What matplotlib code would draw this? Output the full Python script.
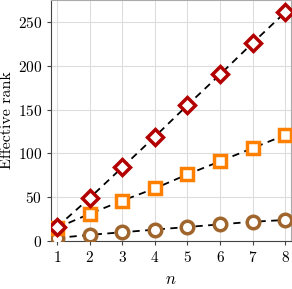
import matplotlib
matplotlib.use("Agg")
import matplotlib.pyplot as plt

plt.rcParams['font.family'] = 'serif'
plt.rcParams['font.serif'] = ['cmr10']
plt.rcParams['mathtext.fontset'] = 'cm'
plt.rcParams['axes.formatter.use_mathtext'] = True

n = [1, 2, 3, 4, 5, 6, 7, 8]
rank_red = [16, 49, 84, 119, 155, 190, 226, 261]
rank_orange = [15, 31, 46, 60, 76, 91, 106, 121]
rank_brown = [3.5, 7, 10, 13, 16, 19, 22, 24]

fig = plt.figure(figsize=(2.92, 2.89), dpi=100)
ax = fig.add_axes([0.175, 0.166, 0.822, 0.834])

ax.plot(n, rank_brown, '--', color='black', lw=1.3, dashes=(4, 3), marker='o', ms=9,
        mfc='white', mec='#a0652c', mew=2.5, zorder=3)
ax.plot(n, rank_orange, '--', color='black', lw=1.3, dashes=(4, 3), marker='s', ms=8.5,
        mfc='white', mec='#ff8000', mew=2.5, zorder=3)
ax.plot(n, rank_red, '--', color='black', lw=1.3, dashes=(4, 3), marker='D', ms=8.5,
        mfc='white', mec='#b30000', mew=2.5, zorder=3)

ax.set_xlim(0.82, 8.18)
ax.set_ylim(0, 275)
ax.set_xticks(n)
ax.set_yticks([0, 50, 100, 150, 200, 250])
ax.grid(True, color='#dddddd', lw=0.8)
ax.set_axisbelow(True)
for s in ['top', 'right']:
    ax.spines[s].set_color('#aaaaaa')
for s in ['left', 'bottom']:
    ax.spines[s].set_color('#444444')
ax.tick_params(labelsize=11, length=3, color='#444444')
ax.set_xlabel('$n$', fontsize=12, labelpad=5)
ax.set_ylabel('Effective rank', fontsize=11.5, labelpad=3)

fig.savefig('out.png', dpi=100)
